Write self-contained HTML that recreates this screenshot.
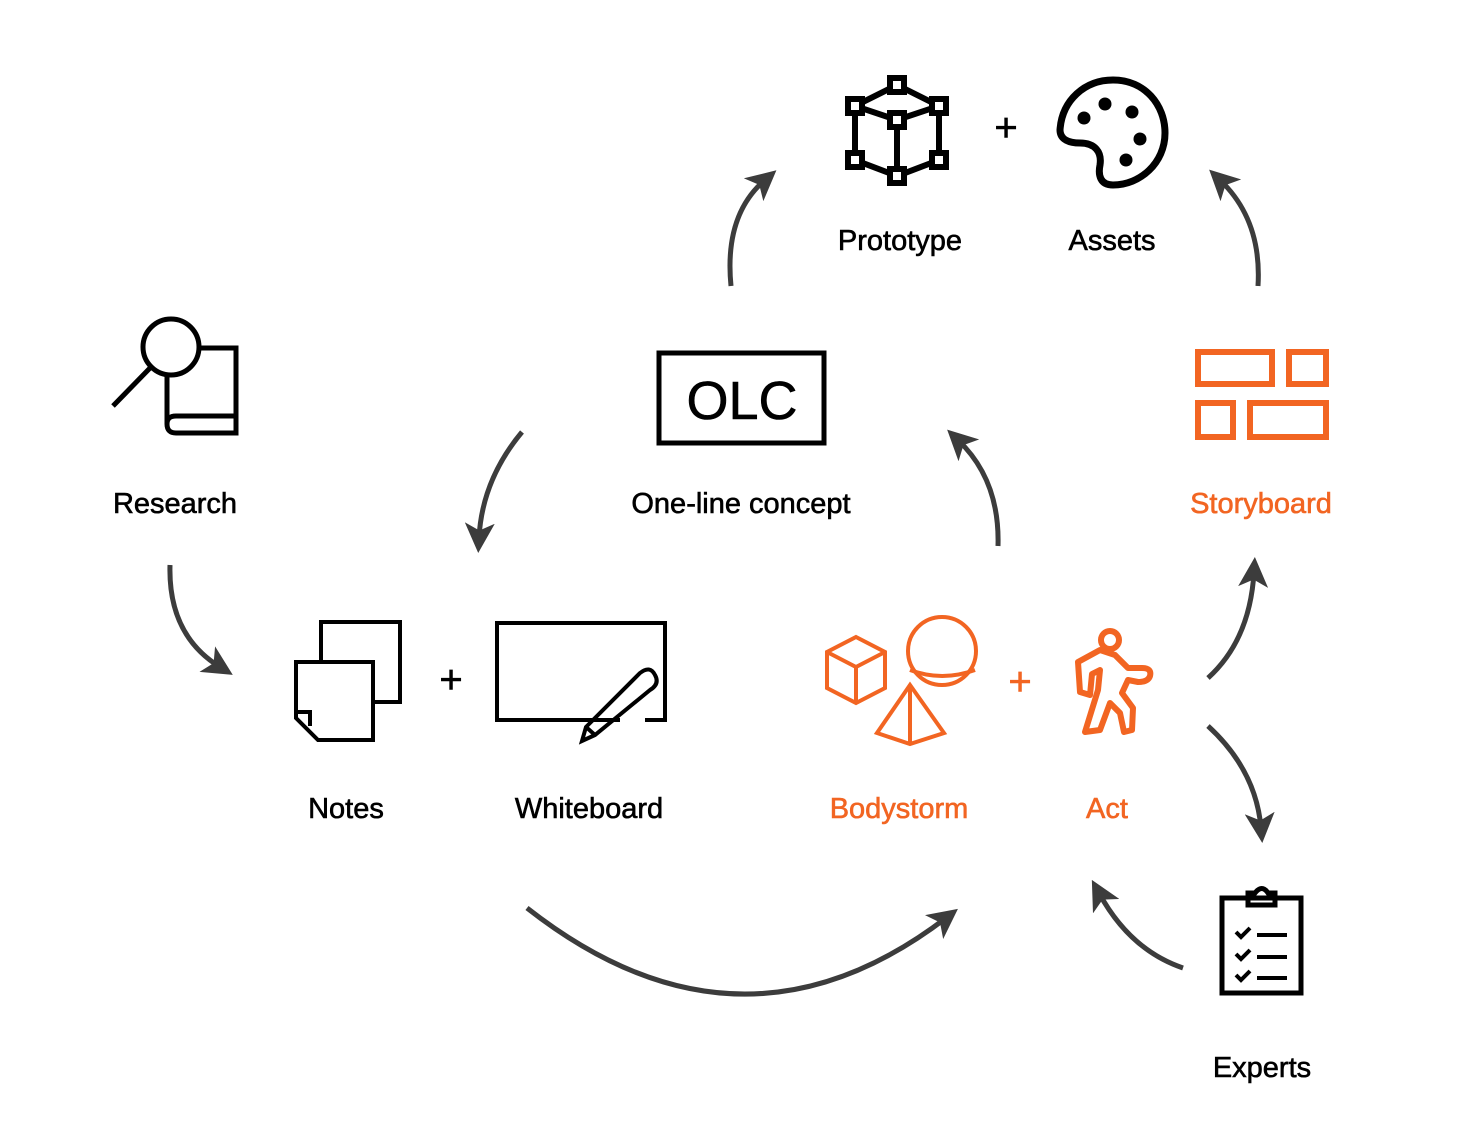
<!DOCTYPE html>
<html><head><meta charset="utf-8"><style>
html,body{margin:0;padding:0;background:#fff}
svg{display:block}
text{font-family:"Liberation Sans",sans-serif;font-size:29px;text-anchor:middle;stroke:currentColor;stroke-width:0.6}
</style></head><body>
<svg width="1482" height="1148" viewBox="0 0 1482 1148" xmlns="http://www.w3.org/2000/svg">
<defs>
<marker id="ah" markerWidth="6" markerHeight="6" refX="3" refY="3" orient="auto" markerUnits="strokeWidth">
<path d="M0,0 L6,3 L0,6 L1.5,3 z" fill="#3c3c3c"/></marker>
</defs>
<g fill="none" stroke="#3c3c3c" stroke-width="5" marker-end="url(#ah)">
<path d="M731,286 Q724,215 765,180"/>
<path d="M1258,286 Q1262,220 1220,180"/>
<path d="M522,432 Q482,480 479,538"/>
<path d="M998,546 Q1000,480 958,440"/>
<path d="M170,565 Q168,635 220,667"/>
<path d="M1208,678 Q1250,640 1254,572"/>
<path d="M1208,726 Q1256,770 1261,828"/>
<path d="M1183,968 Q1130,950 1099,893"/>
<path d="M527,908 Q740,1075 946,918"/>
</g>

<!-- Research -->
<g fill="none" stroke="#000" stroke-width="5">
<circle cx="171" cy="347" r="28"/>
<line x1="151" y1="367" x2="113" y2="406"/>
<path d="M200,348 H236 V433 H176 Q167,433 167,424 Q167,416 176,416 H236"/>
<line x1="167" y1="424" x2="167" y2="374"/>
</g>
<text x="175" y="513" fill="#000" color="#000">Research</text>

<!-- OLC -->
<rect x="659" y="353" width="165" height="90" fill="none" stroke="#000" stroke-width="5"/>
<text x="742" y="419" style="font-size:54px" color="#000">OLC</text>
<text x="741" y="513" color="#000">One-line concept</text>

<!-- Prototype -->
<g fill="none" stroke="#000" stroke-width="6">
<path d="M897,85 L855,106 L897,120 L939,106 Z M855,106 V160 L897,176 L939,160 V106 M897,120 V176"/>
<g fill="#fff" stroke-width="6">
<rect x="890" y="78" width="14" height="14"/><rect x="848" y="99" width="14" height="14"/>
<rect x="932" y="99" width="14" height="14"/><rect x="890" y="113" width="14" height="14"/>
<rect x="848" y="153" width="14" height="14"/><rect x="932" y="153" width="14" height="14"/>
<rect x="890" y="169" width="14" height="14"/></g>
</g>
<text x="1006" y="141" style="font-size:40px" color="#000">+</text>
<!-- Palette -->
<g>
<path d="M1113,80 C1145,80 1165,105 1165,133 C1165,163 1140,185 1113,185 C1100,185 1098,175 1100,165 C1102,152 1095,143 1080,143 C1070,143 1060,140 1060,130 C1062,100 1085,80 1113,80 Z" fill="none" stroke="#000" stroke-width="7"/>
<circle cx="1084" cy="118" r="6.5"/><circle cx="1105" cy="104" r="6.5"/><circle cx="1132" cy="112" r="6.5"/>
<circle cx="1140" cy="139" r="6.5"/><circle cx="1126" cy="160" r="6.5"/>
</g>
<text x="900" y="250" color="#000">Prototype</text>
<text x="1112" y="250" color="#000">Assets</text>

<!-- Storyboard -->
<g fill="none" stroke="#f26522" stroke-width="6">
<rect x="1198" y="352" width="74" height="32"/><rect x="1289" y="352" width="37" height="32"/>
<rect x="1198" y="403" width="35" height="34"/><rect x="1250" y="403" width="76" height="34"/>
</g>
<text x="1261" y="513" fill="#f26522" color="#f26522">Storyboard</text>

<!-- Notes -->
<g fill="none" stroke="#000" stroke-width="4">
<path d="M321,662 V622 H400 V702 H373"/>
<path d="M296,662 H373 V740 H318 L296,718 Z M296,712 H310 V726"/>
</g>
<text x="451" y="693" style="font-size:40px" color="#000">+</text>
<!-- Whiteboard -->
<g fill="none" stroke="#000" stroke-width="4">
<path d="M620,720 H497 V623 H665 V720 H645"/>
<path d="M640,673 Q650,665 655,675 Q660,684 650,690 L595,735 L582,741 L586,727 Z M586,727 L595,735"/>
</g>
<text x="346" y="818" color="#000">Notes</text>
<text x="589" y="818" color="#000">Whiteboard</text>

<!-- Bodystorm -->
<g fill="none" stroke="#f26522" stroke-width="4">
<path d="M856,637 L885,652 L885,688 L856,703 L827,688 L827,652 Z M827,652 L856,667 L885,652 M856,667 V703"/>
<circle cx="942" cy="651" r="34"/>
<path d="M910,670 Q942,682 975,670"/>
<path d="M910,685 L877,733 L910,744 L944,733 Z M910,685 V744"/>
</g>
<text x="1020" y="695" style="font-size:40px" fill="#f26522" color="#f26522">+</text>
<!-- Act -->
<g fill="none" stroke="#f26522" stroke-width="6" stroke-linejoin="round" stroke-linecap="round">
<circle cx="1110" cy="640" r="9"/>
<path d="M1115,655 L1128,668 H1142 Q1152,668 1150,676 Q1148,682 1138,682 L1128,680 L1122,693 L1133,708 L1132,730 L1124,732 L1120,713 L1110,703 L1100,730 L1085,732 L1098,690 L1100,670 L1092,674 L1090,695 L1080,692 L1078,662 L1100,650 Z"/>
</g>
<text x="899" y="818" fill="#f26522" color="#f26522">Bodystorm</text>
<text x="1107" y="818" fill="#f26522" color="#f26522">Act</text>

<!-- Experts -->
<g fill="none" stroke="#000" stroke-width="5">
<rect x="1222" y="898" width="79" height="95"/>
<path d="M1248,905 V893 H1255 Q1262,884 1268,893 H1275 V905 Z"/>
<path d="M1236,932 l5,5 l9,-9 M1236,954 l5,5 l9,-9 M1236,975 l5,5 l9,-9" stroke-width="4"/>
<path d="M1257,935 H1287 M1257,957 H1287 M1257,978 H1287" stroke-width="4"/>
</g>
<text x="1262" y="1077" color="#000">Experts</text>
</svg>
</body></html>
